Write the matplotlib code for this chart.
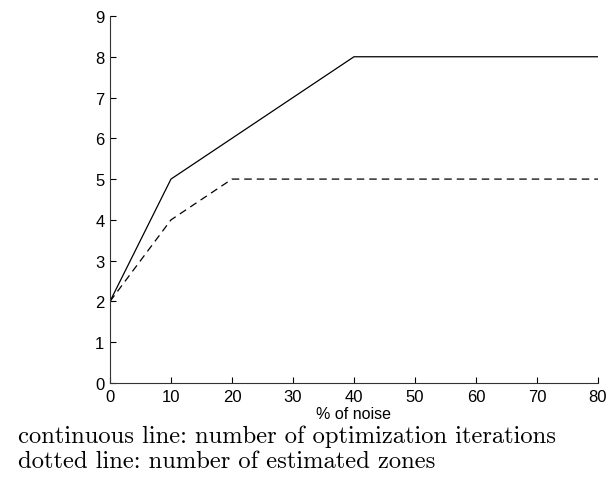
import matplotlib
matplotlib.use("Agg")
import matplotlib.pyplot as plt

noise = [0, 10, 40, 80]
iterations = [2, 5, 8, 8]
noise_z = [0, 10, 20, 80]
zones = [2, 4, 5, 5]
xticks = [0, 10, 20, 30, 40, 50, 60, 70, 80]
yticks = [0, 1, 2, 3, 4, 5, 6, 7, 8, 9]

plt.rcParams['font.family'] = ['Liberation Sans', 'DejaVu Sans']

fig = plt.figure(figsize=(6.12, 4.81), dpi=100)
ax = fig.add_axes([0.1797, 0.2017, 0.9771 - 0.1797, 0.9647 - 0.2017])
ax.plot(noise, iterations, color='black', lw=0.9, linestyle='-')
ax.plot(noise_z, zones, color='black', lw=0.9, linestyle=(0, (6, 4)))
ax.set_xlim(0, 80)
ax.set_ylim(0, 9)
ax.set_xticks(xticks)
ax.set_yticks(yticks)
ax.tick_params(direction='in', length=4, width=0.8, labelsize=12, pad=4, colors='black')
for s in ['top', 'right']:
    ax.spines[s].set_visible(False)
for s in ['left', 'bottom']:
    ax.spines[s].set_linewidth(0.8)
    ax.spines[s].set_color('#333333')
ax.set_xlabel('% of noise', fontsize=11.5, labelpad=2)

fig.text(0.029, 0.0915, 'continuous line: number of optimization iterations',
         fontsize=17.7, ha='left', va='center', family=['cmr10', 'DejaVu Serif'])
fig.text(0.029, 0.0395, 'dotted line: number of estimated zones',
         fontsize=17.7, ha='left', va='center', family=['cmr10', 'DejaVu Serif'])
fig.savefig('out.png', dpi=100)
